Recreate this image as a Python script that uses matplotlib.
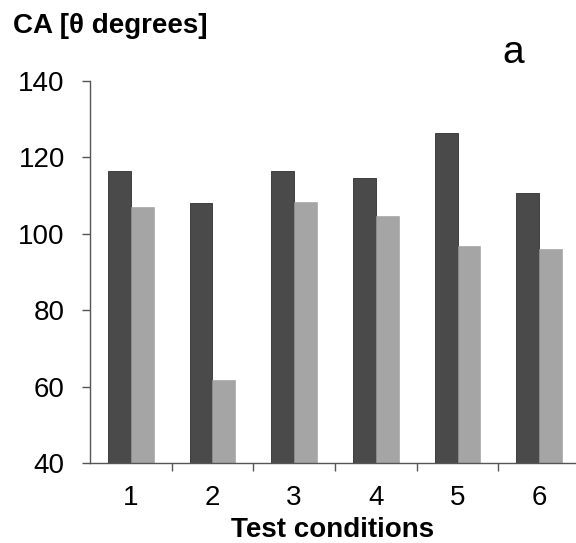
import numpy as np
import matplotlib
matplotlib.use('Agg')
import matplotlib.pyplot as plt

# data
conditions = ['1', '2', '3', '4', '5', '6']
ca_dark = [116.5, 108.0, 116.5, 114.6, 126.4, 110.8]
ca_light = [107.0, 61.7, 108.4, 104.7, 96.7, 96.1]
y_ticks = [40, 60, 80, 100, 120, 140]

plt.rcParams['font.family'] = ['Liberation Sans', 'DejaVu Sans']

fig = plt.figure(figsize=(5.76, 5.43), dpi=100)
ax = fig.add_axes([0.156, 0.1473, 0.844, 0.7035])

x = np.arange(1, len(conditions) + 1)
w = 0.28
ax.bar(x - w / 2, ca_dark, width=w, color='#4a4a4a', edgecolor='#2e2e2e', linewidth=0.6)
ax.bar(x + w / 2, ca_light, width=w, color='#a5a5a5', edgecolor='#9e9e9e', linewidth=0.4)

ax.set_ylim(40, 140)
ax.set_xlim(0.5, 6.45)
ax.set_yticks(y_ticks)
ax.set_yticklabels([str(v) for v in y_ticks], fontsize=20)

# labels at category centres, tick marks between categories
ax.set_xticks(x)
ax.set_xticklabels(conditions, fontsize=20)
ax.tick_params(axis='x', which='major', length=0, pad=16)
ax.set_xticks(np.arange(1.5, 6.0, 1.0), minor=True)
ax.tick_params(axis='x', which='minor', length=6, width=1, color='#555555', direction='out')
ax.tick_params(axis='y', length=6, width=1, color='#555555', pad=12)

for s in ['top', 'right']:
    ax.spines[s].set_visible(False)
for s in ['left', 'bottom']:
    ax.spines[s].set_color('#555555')
    ax.spines[s].set_linewidth(1.0)

ax.set_xlabel('Test conditions', fontsize=20, fontweight='bold', labelpad=4)
fig.text(13 / 576, 1 - 33 / 543, 'CA [θ degrees]', fontsize=20, fontweight='bold', va='baseline', ha='left')
fig.text(502 / 576, 1 - 63 / 543, 'a', fontsize=28, va='baseline', ha='left')

plt.savefig('out.png', dpi=100)
plt.close()
